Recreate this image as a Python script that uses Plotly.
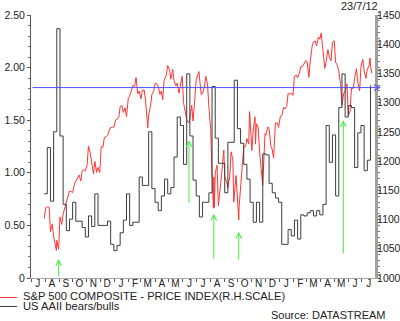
import plotly.graph_objects as go
import pandas as pd

# ---------------- data ----------------
sp_dates = [
    "2010-07-30", "2010-08-03", "2010-08-06", "2010-08-10", "2010-08-13", "2010-08-17", "2010-08-20", "2010-08-24",
    "2010-08-26", "2010-08-27", "2010-08-31", "2010-09-03", "2010-09-07", "2010-09-10", "2010-09-14", "2010-09-17",
    "2010-09-21", "2010-09-24", "2010-09-28", "2010-10-01", "2010-10-05", "2010-10-08", "2010-10-12", "2010-10-15",
    "2010-10-19", "2010-10-22", "2010-10-26", "2010-10-29", "2010-11-02", "2010-11-05", "2010-11-09", "2010-11-12",
    "2010-11-16", "2010-11-19", "2010-11-23", "2010-11-26", "2010-11-30", "2010-12-03", "2010-12-07", "2010-12-10",
    "2010-12-14", "2010-12-17", "2010-12-21", "2010-12-23", "2010-12-28", "2010-12-31", "2011-01-04", "2011-01-07",
    "2011-01-11", "2011-01-14", "2011-01-18", "2011-01-21", "2011-01-25", "2011-01-28", "2011-02-01", "2011-02-04",
    "2011-02-08", "2011-02-11", "2011-02-15", "2011-02-18", "2011-02-22", "2011-02-25", "2011-03-01", "2011-03-04",
    "2011-03-08", "2011-03-11", "2011-03-16", "2011-03-18", "2011-03-22", "2011-03-25", "2011-03-29", "2011-04-01",
    "2011-04-05", "2011-04-08", "2011-04-12", "2011-04-15", "2011-04-18", "2011-04-21", "2011-04-26", "2011-04-29",
    "2011-05-03", "2011-05-06", "2011-05-10", "2011-05-13", "2011-05-17", "2011-05-20", "2011-05-24", "2011-05-27",
    "2011-05-31", "2011-06-03", "2011-06-07", "2011-06-10", "2011-06-15", "2011-06-17", "2011-06-21", "2011-06-24",
    "2011-06-28", "2011-07-01", "2011-07-07", "2011-07-08", "2011-07-12", "2011-07-15", "2011-07-19", "2011-07-22",
    "2011-07-26", "2011-07-29", "2011-08-02", "2011-08-04", "2011-08-08", "2011-08-09", "2011-08-10", "2011-08-12",
    "2011-08-16", "2011-08-19", "2011-08-23", "2011-08-26", "2011-08-31", "2011-09-02", "2011-09-06", "2011-09-09",
    "2011-09-13", "2011-09-16", "2011-09-20", "2011-09-22", "2011-09-27", "2011-09-30", "2011-10-03", "2011-10-04",
    "2011-10-07", "2011-10-11", "2011-10-14", "2011-10-18", "2011-10-21", "2011-10-25", "2011-10-27", "2011-11-01",
    "2011-11-04", "2011-11-08", "2011-11-09", "2011-11-11", "2011-11-15", "2011-11-18", "2011-11-22", "2011-11-25",
    "2011-11-30", "2011-12-02", "2011-12-06", "2011-12-09", "2011-12-13", "2011-12-16", "2011-12-19", "2011-12-23",
    "2011-12-27", "2011-12-30", "2012-01-03", "2012-01-06", "2012-01-10", "2012-01-13", "2012-01-17", "2012-01-20",
    "2012-01-24", "2012-01-27", "2012-01-31", "2012-02-03", "2012-02-07", "2012-02-10", "2012-02-14", "2012-02-17",
    "2012-02-21", "2012-02-24", "2012-02-28", "2012-03-02", "2012-03-06", "2012-03-09", "2012-03-13", "2012-03-16",
    "2012-03-20", "2012-03-23", "2012-03-27", "2012-03-30", "2012-04-02", "2012-04-05", "2012-04-10", "2012-04-13",
    "2012-04-17", "2012-04-20", "2012-04-24", "2012-04-27", "2012-05-01", "2012-05-04", "2012-05-08", "2012-05-11",
    "2012-05-15", "2012-05-18", "2012-05-22", "2012-05-25", "2012-05-29", "2012-06-01", "2012-06-05", "2012-06-08",
    "2012-06-12", "2012-06-15", "2012-06-19", "2012-06-22", "2012-06-26", "2012-06-29", "2012-07-03", "2012-07-06",
    "2012-07-10", "2012-07-13", "2012-07-17", "2012-07-19", "2012-07-20", "2012-07-23",
]
sp_values = [
    1101.6, 1120.5, 1121.6, 1121.1, 1079.3, 1092.5, 1071.7, 1051.9,
    1047.2, 1064.6, 1049.3, 1104.5, 1091.8, 1109.6, 1121.1, 1125.6,
    1139.8, 1148.7, 1147.7, 1146.2, 1160.8, 1165.2, 1169.8, 1176.2,
    1165.9, 1183.1, 1185.6, 1183.3, 1193.6, 1225.9, 1213.4, 1199.2,
    1178.3, 1199.7, 1180.7, 1189.4, 1180.6, 1224.7, 1223.8, 1240.4,
    1241.6, 1243.9, 1254.6, 1256.8, 1258.5, 1257.6, 1270.2, 1271.5,
    1274.5, 1293.2, 1295.0, 1283.4, 1291.2, 1276.3, 1307.6, 1310.9,
    1324.6, 1329.2, 1328.0, 1343.0, 1315.4, 1319.9, 1306.3, 1321.2,
    1321.8, 1304.3, 1256.9, 1279.2, 1293.8, 1313.8, 1319.4, 1332.4,
    1332.6, 1328.2, 1314.2, 1319.7, 1305.1, 1337.4, 1347.2, 1363.6,
    1356.6, 1340.2, 1357.2, 1337.8, 1329.0, 1333.3, 1316.3, 1331.1,
    1345.2, 1300.2, 1284.9, 1271.0, 1265.4, 1271.5, 1295.5, 1268.5,
    1307.6, 1339.7, 1353.2, 1343.8, 1313.6, 1316.1, 1326.7, 1345.0,
    1331.9, 1292.3, 1254.1, 1200.1, 1119.5, 1172.5, 1120.8, 1178.8,
    1192.9, 1123.5, 1162.4, 1176.8, 1218.9, 1174.0, 1165.2, 1154.2,
    1172.9, 1216.0, 1202.1, 1129.6, 1175.4, 1131.4, 1099.2, 1124.0,
    1155.5, 1195.5, 1224.6, 1225.4, 1238.3, 1229.1, 1284.6, 1218.3,
    1253.2, 1275.9, 1229.1, 1263.9, 1257.8, 1215.7, 1188.0, 1158.7,
    1247.0, 1244.3, 1258.5, 1255.2, 1225.7, 1219.7, 1205.4, 1265.3,
    1265.4, 1257.6, 1277.1, 1277.8, 1292.1, 1289.1, 1293.7, 1315.4,
    1314.7, 1316.3, 1312.4, 1344.9, 1347.1, 1342.6, 1350.5, 1361.2,
    1362.2, 1365.7, 1372.2, 1370.0, 1343.4, 1370.9, 1396.0, 1404.2,
    1405.5, 1397.1, 1412.5, 1408.5, 1419.0, 1398.1, 1358.6, 1370.3,
    1390.8, 1378.5, 1372.0, 1403.4, 1405.8, 1369.1, 1363.7, 1353.4,
    1330.7, 1295.2, 1316.6, 1317.8, 1332.4, 1278.0, 1285.5, 1325.7,
    1324.2, 1342.8, 1358.0, 1335.0, 1320.0, 1362.2, 1374.0, 1354.7,
    1341.5, 1356.8, 1363.7, 1376.5, 1362.7, 1350.5,
]

# AAII bears/bulls, weekly readings starting 30 Jul 2010
aaii_first_week = "2010-07-30"
aaii_values = [
    0.80, 1.24, 0.73, 1.39, 2.37, 1.35, 0.70, 0.45, 0.56, 0.72,
    0.54, 0.54, 0.48, 0.39, 0.59, 0.49, 0.80, 0.50, 0.50, 0.50,
    0.54, 0.32, 0.26, 0.31, 0.43, 0.55, 0.80, 0.50, 0.53, 0.53,
    0.96, 0.88, 0.88, 1.39, 0.85, 0.72, 0.64, 0.78, 0.94, 0.80,
    0.86, 1.15, 1.53, 1.45, 1.08, 1.94, 1.35, 0.93, 0.78, 0.58,
    0.72, 0.72, 0.81, 1.82, 1.33, 1.09, 1.09, 0.81, 1.29, 1.29,
    1.88, 1.42, 1.28, 1.08, 0.94, 0.72, 0.53, 0.72, 0.53, 1.18,
    1.17, 0.90, 0.81, 0.76, 0.72, 0.32, 0.32, 0.46, 0.40, 0.55,
    0.37, 0.60, 0.59, 0.62, 0.64, 0.59, 0.64, 0.60, 0.70, 1.45,
    1.10, 1.36, 0.78, 1.62, 1.94, 1.53, 1.64, 1.62, 1.05, 1.38,
    1.45, 1.02, 1.12, 1.83,
]

month_letters = ["J", "A", "S", "O", "N", "D", "J", "F", "M", "A", "M", "J",
                 "J", "A", "S", "O", "N", "D", "J", "F", "M", "A", "M", "J", "J"]
left_tickvals = [0, 0.5, 1.0, 1.5, 2.0, 2.5]
left_ticktext = ["0", "0.50", "1.00", "1.50", "2.00", "2.50"]
right_tickvals = [1000, 1050, 1100, 1150, 1200, 1250, 1300, 1350, 1400, 1450]

reference_level = 1.81          # horizontal blue line (left scale)
arrow_dates = ["2010-08-31", "2011-06-15", "2011-08-09", "2011-10-03", "2012-05-21"]
arrow_tips = [0.18, 1.31, 0.61, 0.44, 1.50]
arrow_bases = [0.0, 0.70, 0.17, 0.16, 0.22]

legend_labels = ["S&P 500 COMPOSITE - PRICE INDEX(R.H.SCALE)", "US AAII bears/bulls"]
date_label = "23/7/12"
source_label = "Source: DATASTREAM"

# ---------------- layout geometry ----------------
W, H = 400, 321
ML, MR, MT, MB = 31, 25, 15, 43
PW, PH = W - ML - MR, H - MT - MB
FONT = "Liberation Sans, Arial, sans-serif"
RED = "#ff3535"
BLACK = "#3c3c3c"
BLUE = "#5050ff"
GREEN = "#44ee44"


def px(xp):
    return (xp - ML) / PW


def py(yp):
    return (H - MB - yp) / PH


fig = go.Figure()

fig.add_trace(go.Scatter(
    x=sp_dates, y=sp_values, mode="lines", yaxis="y",
    line=dict(color=RED, width=1), showlegend=False, hoverinfo="skip"))

aaii_dates = pd.date_range(aaii_first_week, periods=len(aaii_values), freq="7D")
fig.add_trace(go.Scatter(
    x=aaii_dates, y=aaii_values, mode="lines", yaxis="y2",
    line=dict(color=BLACK, width=1, shape="hv"), showlegend=False, hoverinfo="skip"))

month_starts = pd.date_range("2010-07-01", periods=len(month_letters), freq="MS")
month_mids = month_starts + pd.Timedelta(days=15)

fig.update_layout(
    template="none",
    width=W, height=H,
    margin=dict(l=ML, r=MR, t=MT, b=MB, pad=0),
    paper_bgcolor="white", plot_bgcolor="white",
    font=dict(family=FONT, size=10, color="#222"),
    showlegend=False,
    xaxis=dict(
        type="date", range=["2010-07-01", "2012-07-30"],
        tickmode="array", tickvals=list(month_mids), ticktext=month_letters,
        ticks="", showgrid=False, zeroline=False, ticklabelstandoff=-4,
        showline=True, linecolor="#a8a8a8", linewidth=1,
        tickfont=dict(size=10, color="#222"), automargin=False,
        minor=dict(ticks="outside", ticklen=3, tickcolor="#555", tickwidth=1,
                   dtick="M1", tick0="2010-07-01", showgrid=False),
    ),
    yaxis=dict(
        side="right", range=[1000, 1450],
        tickmode="array", tickvals=right_tickvals,
        ticks="outside", ticklen=2, tickcolor="#555", ticklabelstandoff=-5,
        showgrid=False, zeroline=False,
        showline=True, linecolor="#a0a0a0", linewidth=3,
        tickfont=dict(size=10.5, color="#222"), automargin=False,
        minor=dict(ticks="outside", ticklen=2, tickcolor="#777", dtick=10, showgrid=False),
    ),
    yaxis2=dict(
        side="left", overlaying="y", range=[0, 2.5],
        tickmode="array", tickvals=left_tickvals, ticktext=left_ticktext,
        ticks="outside", ticklen=3, tickcolor="#555",
        showgrid=False, zeroline=False,
        showline=True, linecolor="#555", linewidth=1,
        tickfont=dict(size=10.5, color="#222"), automargin=False,
        minor=dict(ticks="outside", ticklen=2, tickcolor="#777", dtick=0.1, showgrid=False),
    ),
)

annotations = []
# blue reference line with arrow head at the right end
annotations.append(dict(
    xref="x domain", yref="y2", x=1.017, y=reference_level,
    axref="x domain", ayref="y2", ax=0.0, ay=reference_level,
    showarrow=True, arrowhead=5, arrowsize=1.1, arrowwidth=1, arrowcolor=BLUE, text=""))
# green arrows
for d, tip, base in zip(arrow_dates, arrow_tips, arrow_bases):
    annotations.append(dict(
        xref="x", yref="y2", x=d, y=tip, axref="x", ayref="y2", ax=d, ay=base,
        showarrow=True, arrowhead=5, arrowsize=1.1, arrowwidth=1, arrowcolor=GREEN, text=""))

# texts
annotations.append(dict(xref="paper", yref="paper", x=px(380), y=py(6), text=date_label,
                        showarrow=False, xanchor="right", yanchor="middle",
                        font=dict(size=11, color="#222", family=FONT)))
annotations.append(dict(xref="paper", yref="paper", x=px(21.5), y=py(295.5), text=legend_labels[0],
                        showarrow=False, xanchor="left", yanchor="middle", borderpad=0,
                        font=dict(size=11.2, color="#222", family=FONT)))
annotations.append(dict(xref="paper", yref="paper", x=px(21.5), y=py(305.5), text=legend_labels[1],
                        showarrow=False, xanchor="left", yanchor="middle", borderpad=0,
                        font=dict(size=11.2, color="#222", family=FONT)))
annotations.append(dict(xref="paper", yref="paper", x=px(387), y=py(315), text=source_label,
                        showarrow=False, xanchor="right", yanchor="middle", borderpad=0,
                        font=dict(size=11, color="#222", family=FONT)))
fig.update_layout(annotations=annotations)

shapes = [
    dict(type="line", xref="paper", yref="paper", x0=px(0), x1=px(17), y0=py(297.5), y1=py(297.5),
         line=dict(color=RED, width=1)),
    dict(type="line", xref="paper", yref="paper", x0=px(0), x1=px(17), y0=py(306.5), y1=py(306.5),
         line=dict(color=BLACK, width=1)),
]
fig.update_layout(shapes=shapes)

fig.write_html("out.html")
